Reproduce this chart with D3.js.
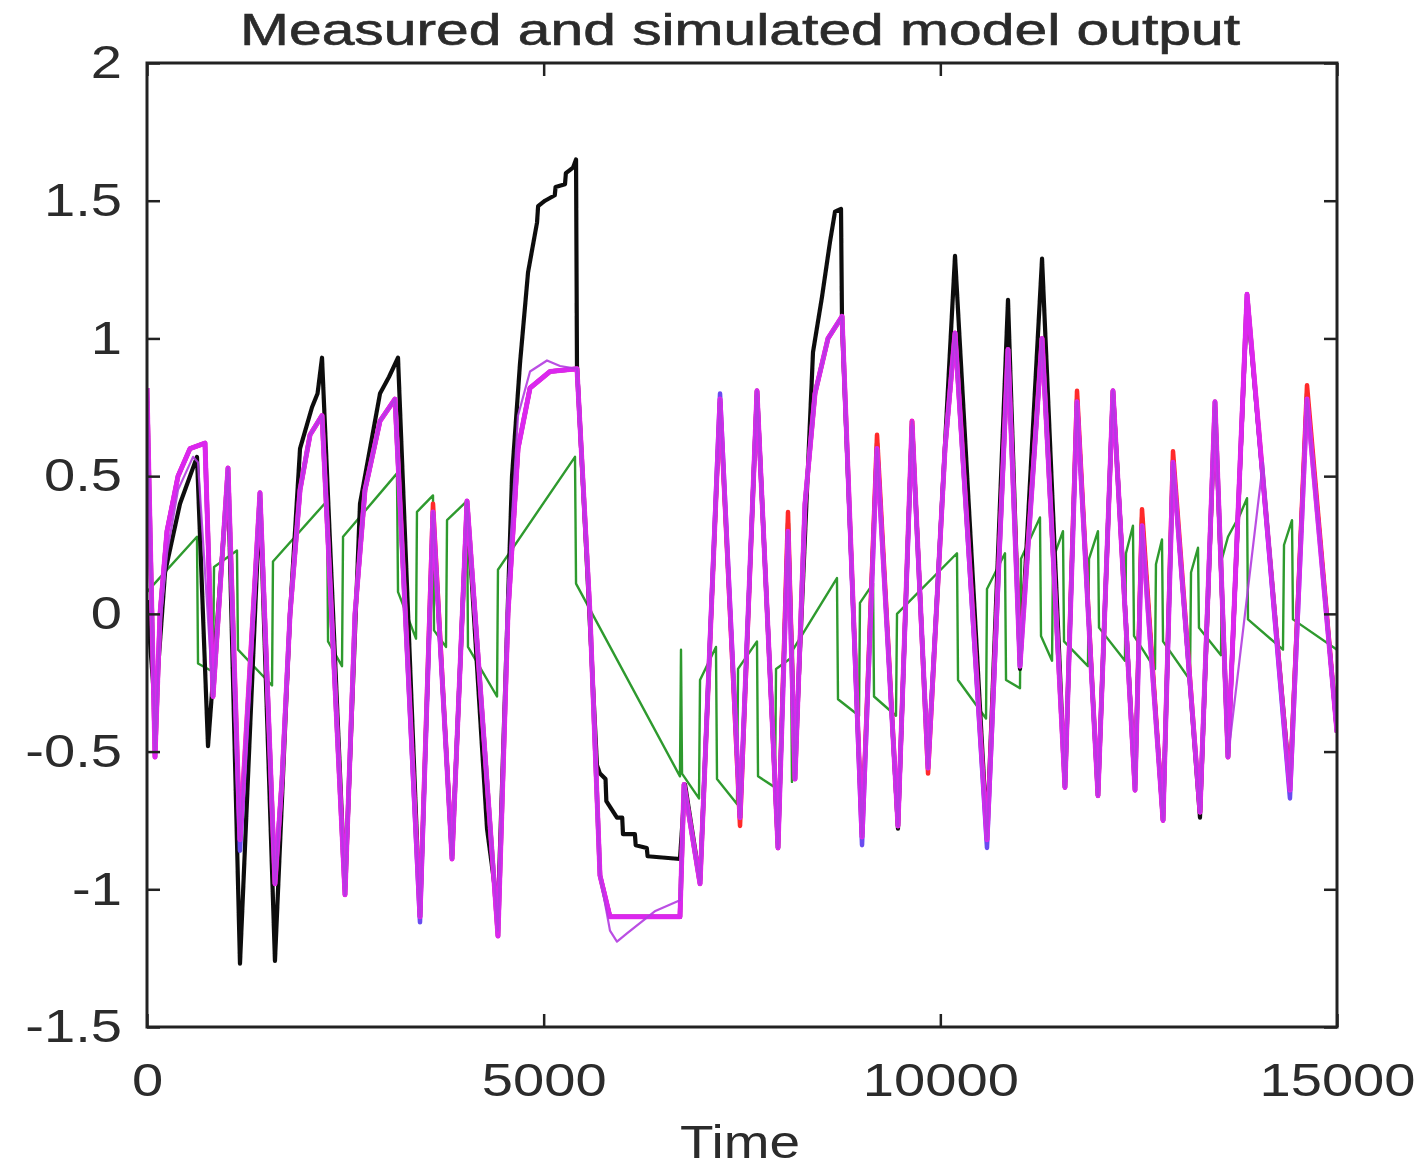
<!DOCTYPE html>
<html>
<head>
<meta charset="utf-8">
<script src="https://cdn.jsdelivr.net/npm/d3@7"></script>
<style>
  body { margin: 0; background: #fff; }
  text { font-family: "Liberation Sans", Arial, sans-serif; fill: #2b2b2b; }
</style>
</head>
<body>
<svg id="chart" width="1422" height="1171"></svg>
<script>
// axis ticks
const xTicks = [0, 5000, 10000, 15000];
const xTickLabels = ["0", "5000", "10000", "15000"];
const yTicks = [-1.5, -1, -0.5, 0, 0.5, 1, 1.5, 2];
const yTickLabels = ["-1.5", "-1", "-0.5", "0", "0.5", "1", "1.5", "2"];

// measured output [time, value]
const measured = [
  [0,0.05],[101,-0.35],[227,0.15],[416,0.4],[630,0.57],[769,-0.48],[1021,0.5],[1172,-1.27],
  [1424,0.42],[1613,-1.26],[1803,0.0],[1929,0.6],[2080,0.75],[2150,0.8],[2206,0.93],[2496,-1.0],
  [2685,0.4],[2937,0.8],[3050,0.86],[3164,0.93],[3441,-1.1],[3605,0.36],[3845,-0.88],[4034,0.4],
  [4286,-0.78],[4424,-1.08],[4601,0.5],[4702,0.91],[4803,1.24],[4916,1.42],[4930,1.48],[5017,1.5],
  [5140,1.52],[5150,1.55],[5269,1.56],[5280,1.6],[5370,1.62],[5408,1.65],[5420,0.9],[5672,-0.55],
  [5710,-0.58],[5780,-0.6],[5790,-0.68],[5924,-0.74],[5990,-0.74],[6000,-0.8],[6150,-0.8],[6160,-0.84],
  [6300,-0.85],[6310,-0.88],[6718,-0.89],[6782,-0.62],[6971,-0.97],[7223,0.77],[7475,-0.74],[7689,0.81],
  [7954,-0.85],[8080,0.33],[8168,-0.55],[8395,0.95],[8508,1.15],[8609,1.35],[8672,1.46],[8748,1.47],
  [8761,1.05],[9013,-0.8],[9202,0.62],[9466,-0.78],[9643,0.7],[9845,-0.55],[10185,1.3],[10588,-0.8],
  [10853,1.14],[11004,-0.2],[11282,1.29],[11571,-0.63],[11723,0.78],[11987,-0.66],[12176,0.81],[12454,-0.62],
  [12542,0.35],[12807,-0.75],[12933,0.56],[13273,-0.74],[13462,0.75],[13626,-0.52],[13866,1.14],[14407,-0.62],
  [14622,0.8],[15000,-0.43]
];

// simulated outputs [time, value]
const simMagenta = [
  [0,0.82],[101,-0.52],[164,0.0],[252,0.3],[391,0.5],[542,0.6],[731,0.62],[832,-0.3],[1021,0.53],
  [1172,-0.82],[1424,0.44],[1613,-0.98],[1702,-0.6],[1803,0.0],[1929,0.45],[2055,0.65],[2206,0.72],
  [2496,-1.02],[2622,0.0],[2748,0.45],[2937,0.7],[3126,0.78],[3441,-1.1],[3605,0.37],[3845,-0.89],
  [4034,0.41],[4424,-1.17],[4550,0.0],[4677,0.6],[4828,0.82],[5080,0.88],[5420,0.89],[5584,0.0],
  [5710,-0.95],[5836,-1.1],[6718,-1.1],[6769,-0.62],[6971,-0.98],[7223,0.78],[7475,-0.74],[7689,0.81],
  [7954,-0.85],[8080,0.3],[8168,-0.6],[8294,0.4],[8420,0.8],[8584,1.0],[8761,1.08],[9013,-0.81],
  [9202,0.6],[9466,-0.77],[9643,0.7],[9845,-0.56],[10059,0.6],[10185,1.02],[10588,-0.82],[10853,0.96],
  [11004,-0.19],[11282,1.0],[11571,-0.63],[11723,0.77],[11987,-0.66],[12176,0.81],[12454,-0.64],[12542,0.32],
  [12807,-0.75],[12933,0.55],[13273,-0.72],[13462,0.77],[13626,-0.52],[13866,1.16],[14407,-0.64],[14622,0.78],
  [15000,-0.43]
];

const simRed = [
  [0,0.82],[101,-0.52],[164,0.0],[252,0.3],[391,0.5],[542,0.6],[731,0.62],[832,-0.3],[1021,0.53],
  [1172,-0.82],[1424,0.44],[1613,-0.98],[1702,-0.6],[1803,0.0],[1929,0.45],[2055,0.65],[2206,0.72],
  [2496,-1.02],[2622,0.0],[2748,0.45],[2937,0.7],[3126,0.78],[3441,-1.1],[3605,0.4],[3845,-0.89],
  [4034,0.41],[4424,-1.17],[4550,0.0],[4677,0.6],[4828,0.82],[5080,0.88],[5420,0.89],[5584,0.0],
  [5710,-0.95],[5836,-1.1],[6718,-1.1],[6769,-0.62],[6971,-0.98],[7223,0.78],[7475,-0.77],[7689,0.81],
  [7954,-0.85],[8080,0.37],[8168,-0.6],[8294,0.4],[8420,0.8],[8584,1.0],[8761,1.08],[9013,-0.81],
  [9202,0.65],[9466,-0.77],[9643,0.7],[9845,-0.58],[10059,0.6],[10185,1.02],[10588,-0.82],[10853,0.96],
  [11004,-0.17],[11282,1.0],[11571,-0.63],[11723,0.81],[11987,-0.66],[12176,0.81],[12454,-0.64],[12542,0.38],
  [12807,-0.75],[12933,0.59],[13273,-0.72],[13462,0.77],[13626,-0.52],[13866,1.16],[14407,-0.64],[14622,0.83],
  [15000,-0.43]
];

const simBlue = [
  [0,0.82],[101,-0.52],[164,0.0],[252,0.3],[391,0.5],[542,0.6],[731,0.62],[832,-0.3],[1021,0.53],
  [1172,-0.86],[1424,0.44],[1613,-0.98],[1702,-0.6],[1803,0.0],[1929,0.45],[2055,0.65],[2206,0.72],
  [2496,-1.02],[2622,0.0],[2748,0.45],[2937,0.7],[3126,0.78],[3441,-1.12],[3605,0.37],[3845,-0.89],
  [4034,0.41],[4424,-1.17],[4550,0.0],[4677,0.6],[4828,0.82],[5080,0.88],[5420,0.89],[5584,0.0],
  [5710,-0.95],[5836,-1.1],[6718,-1.1],[6769,-0.62],[6971,-0.98],[7223,0.8],[7475,-0.74],[7689,0.81],
  [7954,-0.85],[8080,0.3],[8168,-0.6],[8294,0.4],[8420,0.8],[8584,1.0],[8761,1.08],[9013,-0.84],
  [9202,0.6],[9466,-0.77],[9643,0.68],[9845,-0.56],[10059,0.6],[10185,1.02],[10588,-0.85],[10853,0.96],
  [11004,-0.19],[11282,1.0],[11571,-0.63],[11723,0.77],[11987,-0.66],[12176,0.81],[12454,-0.64],[12542,0.32],
  [12807,-0.75],[12933,0.55],[13273,-0.72],[13462,0.77],[13626,-0.52],[13866,1.16],[14407,-0.67],[14622,0.78],
  [15000,-0.43]
];

const simViolet = [
  [0,0.8],[101,-0.5],[164,-0.05],[252,0.22],[391,0.45],[580,0.57],[643,0.55],[832,-0.3],[1021,0.53],
  [1172,-0.82],[1424,0.44],[1613,-0.98],[1702,-0.6],[1803,0.0],[1929,0.45],[2055,0.65],[2206,0.72],
  [2496,-1.02],[2622,0.0],[2748,0.45],[2937,0.7],[3126,0.78],[3441,-1.1],[3605,0.37],[3845,-0.89],
  [4034,0.41],[4424,-1.15],[4550,0.1],[4677,0.72],[4828,0.88],[5042,0.92],[5206,0.9],[5420,0.89],
  [5584,0.0],[5710,-0.95],[5836,-1.15],[5924,-1.19],[6050,-1.16],[6400,-1.08],[6718,-1.04],[6769,-0.62],
  [6971,-0.98],[7223,0.78],[7475,-0.74],[7689,0.81],[7954,-0.85],[8080,0.3],[8168,-0.6],[8294,0.4],
  [8420,0.8],[8584,1.0],[8761,1.08],[9013,-0.81],[9202,0.6],[9466,-0.77],[9643,0.7],[9845,-0.56],
  [10059,0.6],[10185,1.02],[10588,-0.82],[10853,0.96],[11004,-0.19],[11282,1.0],[11571,-0.63],[11723,0.77],
  [11987,-0.66],[12176,0.81],[12454,-0.64],[12542,0.32],[12807,-0.75],[12933,0.55],[13273,-0.72],[13462,0.77],
  [13626,-0.52],[14067,0.55],[14407,-0.64],[14622,0.78],[15000,-0.43]
];

const simGreen = [
  [0,0.08],[630,0.28],[643,-0.18],[832,-0.21],[845,0.17],[1134,0.23],[1147,-0.13],[1576,-0.26],
  [1588,0.19],[2269,0.41],[2282,-0.1],[2458,-0.19],[2471,0.28],[3151,0.51],[3164,0.08],[3391,-0.09],
  [3403,0.37],[3605,0.43],[3618,-0.06],[3769,-0.12],[3782,0.34],[4034,0.41],[4046,-0.12],[4412,-0.3],
  [4424,0.16],[5395,0.57],[5408,0.11],[6718,-0.59],[6731,-0.13],[6744,-0.58],[6958,-0.67],[6971,-0.24],
  [7172,-0.12],[7185,-0.6],[7437,-0.69],[7450,-0.2],[7689,-0.1],[7702,-0.59],[7916,-0.63],[7929,-0.2],
  [8118,-0.16],[8130,-0.61],[8143,-0.13],[8697,0.13],[8710,-0.31],[8975,-0.37],[8987,0.04],[9152,0.11],
  [9164,-0.3],[9441,-0.37],[9454,0.0],[10210,0.22],[10223,-0.24],[10576,-0.38],[10588,0.09],[10815,0.22],
  [10828,-0.24],[11004,-0.27],[11017,0.2],[11256,0.35],[11269,-0.08],[11408,-0.17],[11420,0.2],[11546,0.3],
  [11559,-0.1],[11861,-0.19],[11874,0.2],[11987,0.3],[12000,-0.05],[12327,-0.17],[12340,0.22],[12428,0.32],
  [12441,-0.08],[12706,-0.2],[12718,0.18],[12794,0.27],[12807,-0.1],[13147,-0.24],[13160,0.15],[13248,0.24],
  [13260,-0.05],[13538,-0.15],[13550,0.2],[13626,0.28],[13777,0.36],[13866,0.42],[13878,-0.02],[14319,-0.13],
  [14332,0.25],[14433,0.34],[14445,-0.02],[15000,-0.13]
];

const plotLeft = 147,
  plotRight = 1337,
  plotTop = 63,
  plotBottom = 1027;

const svg = d3.select("#chart");

const x = d3.scaleLinear().domain([0, 15000]).range([plotLeft, plotRight]);
const y = d3.scaleLinear().domain([-1.5, 2]).range([plotBottom, plotTop]);

const defs = svg.append("defs");
defs.append("clipPath")
  .attr("id", "plot-clip")
  .append("rect")
  .attr("x", plotLeft)
  .attr("y", plotTop)
  .attr("width", plotRight - plotLeft)
  .attr("height", plotBottom - plotTop);

// the reference is a soft, upscaled picture
defs.append("filter")
  .attr("id", "soft")
  .append("feGaussianBlur")
  .attr("stdDeviation", 0.6);

const line = d3.line()
  .x((d) => x(d[0]))
  .y((d) => y(d[1]));

// drawing order: first is lowest
const series = [
  { data: simGreen, color: "#2f9a2f", width: 2.4, opacity: 1 },
  { data: measured, color: "#111111", width: 4.2, opacity: 1 },
  { data: simRed, color: "#ff2a2a", width: 4.5, opacity: 1 },
  { data: simBlue, color: "#6a4cf0", width: 4.5, opacity: 1 },
  { data: simMagenta, color: "#ee22ee", width: 5, opacity: 0.85 },
  { data: simViolet, color: "#b23be0", width: 2.2, opacity: 0.9 }
];

const plot = svg.append("g")
  .attr("clip-path", "url(#plot-clip)")
  .append("g")
  .attr("filter", "url(#soft)");

plot.selectAll("path.series")
  .data(series)
  .join("path")
  .attr("class", "series")
  .attr("fill", "none")
  .attr("stroke", (d) => d.color)
  .attr("stroke-width", (d) => d.width)
  .attr("stroke-opacity", (d) => d.opacity)
  .attr("stroke-linejoin", "round")
  .attr("d", (d) => line(d.data));

// axes, ticks pointing inward like matlab
function styleAxis(g) {
  g.select(".domain").remove();
  g.selectAll(".tick line").attr("stroke", "#222").attr("stroke-width", 2.5);
  g.attr("font-size", 46).attr("font-family", '"Liberation Sans", Arial, sans-serif');
  g.selectAll(".tick text").attr("fill", "#2b2b2b");
}

svg.append("g")
  .attr("transform", `translate(${plotLeft},0)`)
  .call(d3.axisLeft(y).tickValues(yTicks).tickSizeInner(-13).tickSizeOuter(0).tickPadding(25)
    .tickFormat((d, i) => yTickLabels[i]))
  .call(styleAxis);

svg.append("g")
  .attr("transform", `translate(${plotRight},0)`)
  .call(d3.axisRight(y).tickValues(yTicks).tickSizeInner(-13).tickSizeOuter(0).tickFormat(""))
  .call(styleAxis);

svg.append("g")
  .attr("transform", `translate(0,${plotBottom})`)
  .call(d3.axisBottom(x).tickValues(xTicks).tickSizeInner(-13).tickSizeOuter(0).tickPadding(36)
    .tickFormat((d, i) => xTickLabels[i]))
  .call(styleAxis);

svg.append("g")
  .attr("transform", `translate(0,${plotTop})`)
  .call(d3.axisTop(x).tickValues(xTicks).tickSizeInner(-13).tickSizeOuter(0).tickFormat(""))
  .call(styleAxis);

// the source picture is stretched sideways, so widen the labels
svg.selectAll(".tick text").each(function () {
  const w = this.getComputedTextLength();
  if (w > 0) {
    d3.select(this).attr("textLength", w * 1.22).attr("lengthAdjust", "spacingAndGlyphs");
  }
});

// box
svg.append("rect")
  .attr("x", plotLeft)
  .attr("y", plotTop)
  .attr("width", plotRight - plotLeft)
  .attr("height", plotBottom - plotTop)
  .attr("fill", "none")
  .attr("stroke", "#222")
  .attr("stroke-width", 3);

svg.append("text")
  .attr("x", (plotLeft + plotRight) / 2 - 2)
  .attr("y", 45)
  .attr("text-anchor", "middle")
  .attr("font-size", 44)
  .attr("stroke", "#2b2b2b")
  .attr("stroke-width", 0.6)
  .attr("textLength", 1000)
  .attr("lengthAdjust", "spacingAndGlyphs")
  .text("Measured and simulated model output");

svg.append("text")
  .attr("x", 740)
  .attr("y", 1158)
  .attr("text-anchor", "middle")
  .attr("font-size", 46)
  .attr("textLength", 120)
  .attr("lengthAdjust", "spacingAndGlyphs")
  .text("Time");
</script>
</body>
</html>
